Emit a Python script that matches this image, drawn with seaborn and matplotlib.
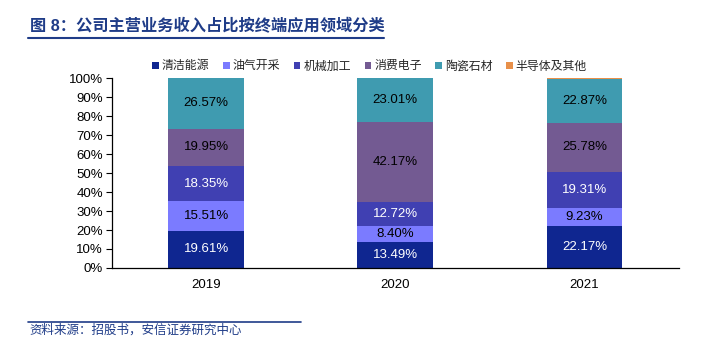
import matplotlib
matplotlib.use("Agg")
import matplotlib.pyplot as plt
from matplotlib.patches import Patch
from matplotlib.lines import Line2D
import numpy as np
import pandas as pd
import seaborn as sns

years = ["2019", "2020", "2021"]
series_names = ["清洁能源", "油气开采", "机械加工", "消费电子", "陶瓷石材", "半导体及其他"]
clean_energy = [19.61, 13.49, 22.17]
oil_gas = [15.51, 8.40, 9.23]
machining = [18.35, 12.72, 19.31]
consumer_elec = [19.95, 42.17, 25.78]
ceramics = [26.57, 23.01, 22.87]
semi_other = [0.01, 0.21, 0.64]
series_values = [clean_energy, oil_gas, machining, consumer_elec, ceramics, semi_other]
colors = ["#0F2690", "#7B7BFF", "#4040B2", "#735A92", "#3F9BB0", "#E8904A"]
label_colors = ["white", "black", "white", "black", "black", None]
yticks = [0, 10, 20, 30, 40, 50, 60, 70, 80, 90, 100]

sns.set_theme(style="white")
plt.rcParams['font.family'] = ['Liberation Sans', 'Noto Sans CJK SC', 'DejaVu Sans']

fig = plt.figure(figsize=(7.08, 3.53), dpi=100)
ax = fig.add_axes([0.1575, 0.2408, 0.959 - 0.1575, 0.779 - 0.2408])

vals = np.array(series_values)
cums = np.cumsum(vals, axis=0)
# draw cumulative bars from top down so lower segments overlay
for i in range(len(series_names) - 1, -1, -1):
    df = pd.DataFrame({"year": years, "value": cums[i]})
    sns.barplot(data=df, x="year", y="value", color=colors[i], width=0.4,
                saturation=1, ax=ax, edgecolor="none", linewidth=0)

for i in range(len(series_names)):
    if label_colors[i] is None:
        continue
    for j in range(len(years)):
        v = vals[i, j]
        mid = cums[i, j] - v / 2
        ax.text(j, mid, f"{v:.2f}%", ha="center", va="center",
                fontsize=9.5, color=label_colors[i])

ax.set_xlim(-0.5, 2.5)
ax.set_ylim(0, 100)
ax.set_yticks(yticks)
ax.set_yticklabels([f"{t}%" for t in yticks], fontsize=9.5, color="black")
ax.set_xticks(range(len(years)))
ax.set_xticklabels(years, fontsize=9.5, color="black")
ax.set_xticks([-0.5, 0.5, 1.5, 2.5], minor=True)
ax.tick_params(axis="x", which="major", length=0, pad=8)
ax.tick_params(axis="x", which="minor", length=4, width=0.8, color="black", direction="out")
ax.tick_params(axis="y", length=4, width=0.8, color="black", direction="out", left=True, pad=2)
ax.set_xlabel("")
ax.set_ylabel("")
for s in ["top", "right"]:
    ax.spines[s].set_visible(False)
for s in ["left", "bottom"]:
    ax.spines[s].set_color("black")
    ax.spines[s].set_linewidth(0.9)

handles = [Patch(facecolor=c, edgecolor="none") for c in colors]
fig.legend(handles, series_names, loc="center", bbox_to_anchor=(0.522, 0.812),
           ncol=6, frameon=False, fontsize=8.6, handlelength=0.55, handleheight=0.55,
           handletextpad=0.25, columnspacing=1.15)

title_color = "#1F3C88"
fig.text(0.042, 0.925, "图 8：公司主营业务收入占比按终端应用领域分类", fontsize=11.7,
         fontweight="bold", color=title_color, va="center", ha="left")
fig.add_artist(Line2D([0.040, 0.543], [0.893, 0.893], color=title_color, linewidth=1.5))
fig.add_artist(Line2D([0.040, 0.425], [0.088, 0.088], color=title_color, linewidth=1.2))
fig.text(0.042, 0.063, "资料来源：招股书，安信证券研究中心", fontsize=9,
         style="italic", color=title_color, va="center", ha="left")

fig.savefig("out.png", dpi=100)
